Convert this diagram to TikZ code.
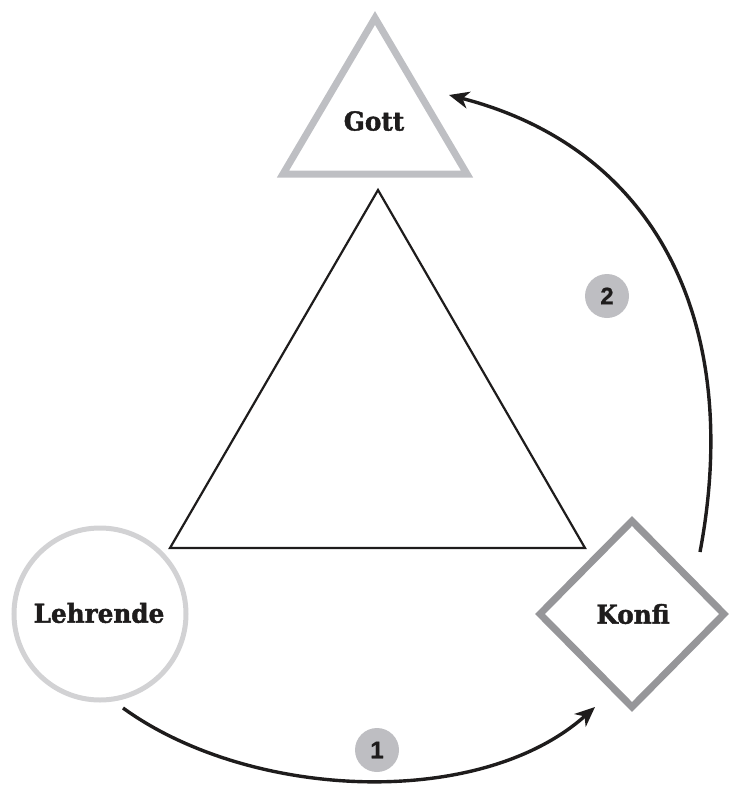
\documentclass[tikz,border=0pt]{standalone}
\usepackage{fontspec}
\setmainfont{DejaVu Serif}
\newfontfamily\lblfont[BoldFeatures={FakeStretch=0.95,FakeBold=1.6}]{DejaVu Serif}
\newfontfamily\badgefont[BoldFeatures={FakeBold=0.8}]{Liberation Sans}
\usepackage{xcolor}
\usepackage{tikz}
\usetikzlibrary{arrows.meta}
\definecolor{gottcol}{RGB}{190,191,195}
\definecolor{lehrcol}{RGB}{210,210,212}
\definecolor{konficol}{RGB}{150,150,153}
\definecolor{badgecol}{RGB}{190,190,194}
\definecolor{inkcol}{RGB}{30,28,28}

\begin{document}
\begin{tikzpicture}[x=1pt, y=-1pt,
    lbl/.style={font=\lblfont\fontsize{26}{30}\selectfont\bfseries, text=inkcol, inner sep=0pt},
    badge/.style={circle, fill=badgecol, minimum size=44pt, inner sep=0pt,
      font=\badgefont\fontsize{24}{28}\selectfont\bfseries, text=inkcol},
    flow/.style={inkcol, line width=3.4pt, -{Stealth[length=20pt, width=17pt, inset=6pt]}}]

    \useasboundingbox (0,0) rectangle (730,785);

    %% Gott -- gray triangle at the top
    \draw[gottcol, line width=7pt, line join=miter] (375,18) -- (467,174) -- (283,174) -- cycle;
    \node[lbl] (gott) at (374,121) {Gott};

    %% Central triangle
    \draw[inkcol, line width=2.2pt] (378,190) -- (585,548) -- (170,548) -- cycle;

    %% Lehrende -- circle
    \draw[lehrcol, line width=5pt] (100,614) circle (86);
    \node[lbl] (lehrende) at (99,613) {Lehrende};

    %% Konfi -- diamond
    \draw[konficol, line width=7pt, line join=miter] (632,521) -- (724,614) -- (632,707) -- (540,614) -- cycle;
    \node[lbl] (konfi) at (633,614) {Konfi};

    %% Arrow ends
    \coordinate (s1) at (123,708);
    \coordinate (e1) at (595,707);
    \coordinate (s2) at (700,552);
    \coordinate (e2) at (449,95);

    %% Step 1: Lehrende -> Konfi
    \draw[flow] (s1) .. controls (250,800) and (480,810) .. (e1);
    \node[badge] (one) at (377,750) {1};

    %% Step 2: Konfi -> Gott
    \draw[flow] (s2) .. controls (742,330) and (662,150) .. (e2);
    \node[badge] (two) at (607,296) {2};

\end{tikzpicture}
\end{document}
